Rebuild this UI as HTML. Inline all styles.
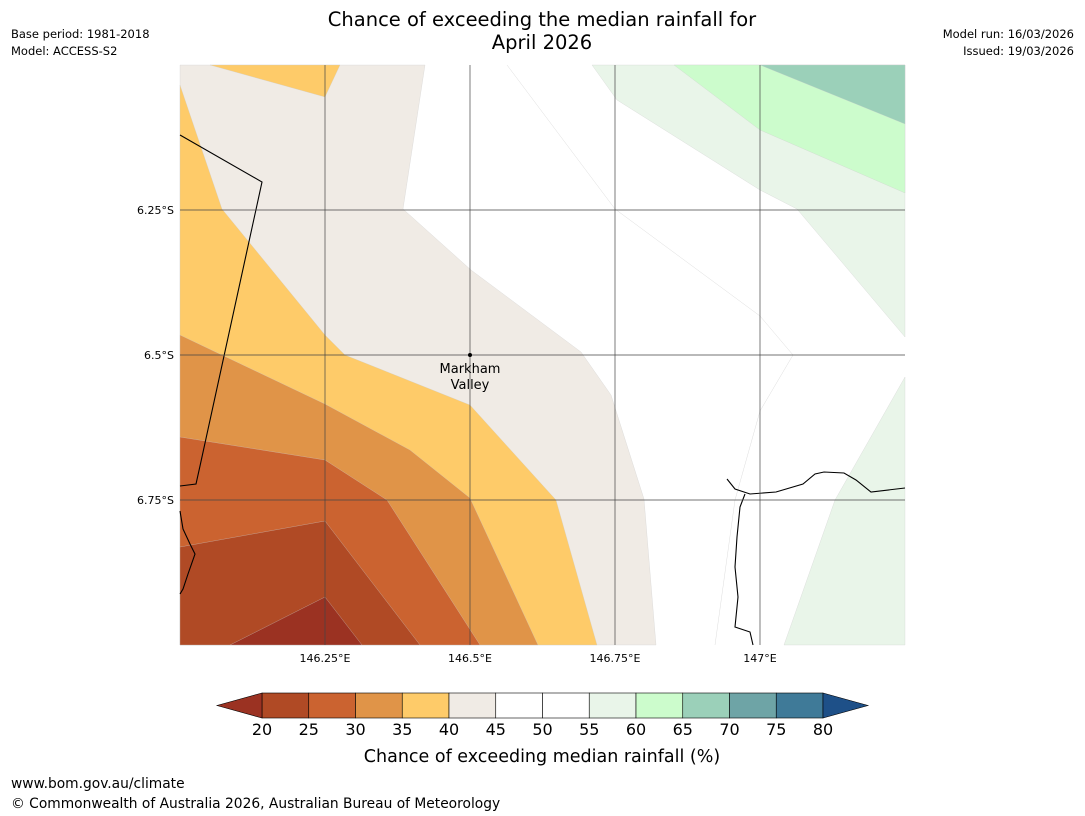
<!DOCTYPE html>
<html><head><meta charset="utf-8">
<style>
body{margin:0;background:#fff;font-family:"Liberation Sans","DejaVu Sans",sans-serif;}
svg{display:block}
</style></head>
<body>
<svg id="chart" width="1085" height="816" xmlns="http://www.w3.org/2000/svg" font-family="DejaVu Sans, Liberation Sans, sans-serif">
<rect width="1085" height="816" fill="#fff"/>
<text x="542" y="26" font-size="19.5" text-anchor="middle">Chance of exceeding the median rainfall for</text>
<text x="542" y="49" font-size="19.5" text-anchor="middle">April 2026</text>
<text x="11" y="38" font-size="11.5">Base period: 1981-2018</text>
<text x="11" y="55" font-size="11.5">Model: ACCESS-S2</text>
<text x="1074" y="38" font-size="11.5" text-anchor="end">Model run: 16/03/2026</text>
<text x="1074" y="55" font-size="11.5" text-anchor="end">Issued: 19/03/2026</text>
<g id="map"></g>
<g id="cbar"></g>
<text x="542" y="762" font-size="17.5" text-anchor="middle">Chance of exceeding median rainfall (%)</text>
<text x="11" y="788" font-size="13.8">www.bom.gov.au/climate</text>
<text x="11" y="808" font-size="13.8">© Commonwealth of Australia 2026, Australian Bureau of Meteorology</text>
</svg>
<script>
// axes
const lonTicks=[146.25,146.5,146.75,147.0];
const lonLabels=["146.25°E","146.5°E","146.75°E","147°E"];
const latTicks=[6.25,6.5,6.75];
const latLabels=["6.25°S","6.5°S","6.75°S"];
const levels=[20,25,30,35,40,45,50,55,60,65,70,75,80];
const barColors=["#b04a25","#cb6330","#e09448","#fecb69","#f0ebe5","#ffffff","#ffffff","#e9f5e9","#ccfccc","#9bd0b9","#6ea4a6","#3f7a98"];
const lowColor="#9b3222", highColor="#1e5088";
// contour regions in [lon, latS]
const regionColors=["#f0ebe5","#fecb69","#fecb69","#e09448","#cb6330","#b04a25","#9b3222","#e9f5e9","#e9f5e9","#ccfccc","#9bd0b9"];
const regions=[
 [[146,6],[146.4224,6],[146.3845,6.2483],[146.5017,6.3534],[146.6914,6.4948],[146.7431,6.569],[146.8,6.7483],[146.8207,7],[146,7]],
 [[146,6.0345],[146.0724,6.2483],[146.25,6.4655],[146.2845,6.5],[146.5,6.5862],[146.6483,6.75],[146.7190,7],[146,7]],
 [[146.0517,6],[146.2759,6],[146.25,6.0552],[146.0517,6]],
 [[146,6.4655],[146.25,6.5845],[146.3966,6.6638],[146.5,6.7466],[146.6172,7],[146,7]],
 [[146,6.6414],[146.25,6.681],[146.3569,6.75],[146.5172,7],[146,7]],
 [[146,6.8310],[146.25,6.7862],[146.4138,7],[146,7]],
 [[146.0862,7],[146.25,6.9172],[146.3138,7]],
 [[146.7103,6],[147.25,6],[147.25,6.4690],[147.0638,6.2483],[147,6.2155],[146.7534,6.0603]],
 [[147.25,6.5379],[147.1293,6.75],[147.0414,7],[147.25,7]],
 [[146.8517,6],[147.25,6],[147.25,6.2207],[147,6.1121]],
 [[147,6],[147.25,6],[147.25,6.1017]]
];
const contourLines=[
 [[146.5638,6],[146.75,6.2483],[147,6.4328],[147.0569,6.5],[147,6.5966],[146.9569,6.75],[146.9224,7]]
];
const border=[[146,6.1207],[146.1414,6.2017],[146.0345,6.6914],[146.0276,6.7224],[146,6.7259]];
const coastW=[[146,6.7690],[146.0052,6.8],[146.0172,6.8259],[146.0259,6.8431],[146.0138,6.8776],[146.0052,6.9034],[146,6.9121]];
const coastE=[[146.9431,6.7138],[146.9569,6.7310],[146.9828,6.7397],[147.0276,6.7362],[147.0741,6.7224],[147.0948,6.7052],[147.1103,6.7017],[147.1448,6.7034],[147.1655,6.7155],[147.1914,6.7362],[147.25,6.7293]];
const coastE2=[[146.9741,6.7397],[146.9655,6.7621],[146.9603,6.8138],[146.9569,6.8655],[146.9621,6.9172],[146.9569,6.9690],[146.9828,6.9776],[146.9879,7]];
const place={lon:146.5,lat:6.5,name:["Markham","Valley"]};

const X0=180,X1=905,Y0=65,Y1=645,LON0=146,LON1=147.25,LAT0=6,LAT1=7;
const xs=lon=>X0+(lon-LON0)/(LON1-LON0)*(X1-X0);
const ys=lat=>Y0+(lat-LAT0)/(LAT1-LAT0)*(Y1-Y0);
const NS="http://www.w3.org/2000/svg";
const map=document.getElementById('map');
function mk(tag,attrs,parent){const e=document.createElementNS(NS,tag);for(const k in attrs)e.setAttribute(k,attrs[k]);parent.appendChild(e);return e;}
const pts=a=>a.map(p=>xs(p[0]).toFixed(1)+","+ys(p[1]).toFixed(1)).join(" ");
regions.forEach((r,i)=>{
 const p=mk('polygon',{points:pts(r),fill:regionColors[i],stroke:"#ccc","stroke-width":0.3},map);
 
 
});
contourLines.forEach(l=>{
 const p=mk('polyline',{points:pts(l),fill:"none",stroke:"#ddd","stroke-width":0.5},map);
 
 
});
[border,coastW,coastE,coastE2].forEach(l=>{
 const p=mk('polyline',{points:pts(l),fill:"none",stroke:"#000","stroke-width":1.1},map);
 
 
});
lonTicks.forEach((t,i)=>{
 const g=mk('line',{x1:xs(t),x2:xs(t),y1:Y0,y2:Y1,stroke:"#444","stroke-width":0.7},map);
 
 
 const tx=mk('text',{x:xs(t),y:Y1+17,"font-size":11,"text-anchor":"middle"},map);tx.textContent=lonLabels[i];
 
 
});
latTicks.forEach((t,i)=>{
 const g=mk('line',{x1:X0,x2:X1,y1:ys(t),y2:ys(t),stroke:"#444","stroke-width":0.7},map);
 
 
 const tx=mk('text',{x:X0-6,y:ys(t)+4,"font-size":11,"text-anchor":"end"},map);tx.textContent=latLabels[i];
 
 
});
const dot=mk('circle',{cx:xs(place.lon),cy:ys(place.lat),r:2,fill:"#000"},map);


place.name.forEach((n,i)=>{
 const t=mk('text',{x:xs(place.lon),y:ys(place.lat)+18+i*16,"font-size":13,"text-anchor":"middle"},map);t.textContent=n;
 
 
});
// colorbar
const cb=document.getElementById('cbar');
const CX0=262,CX1=823,CY0=693,CY1=718;
const cx=v=>CX0+(v-levels[0])/(levels[levels.length-1]-levels[0])*(CX1-CX0);
barColors.forEach((c,i)=>{
 const r=mk('rect',{x:cx(levels[i]),y:CY0,width:cx(levels[i+1])-cx(levels[i]),height:CY1-CY0,fill:c,stroke:"#000","stroke-width":0.6},cb);
 
 
});
const lo=mk('polygon',{points:`${CX0},${CY0} ${CX0-45},${(CY0+CY1)/2} ${CX0},${CY1}`,fill:lowColor,stroke:"#000","stroke-width":0.6},cb);


const hi=mk('polygon',{points:`${CX1},${CY0} ${CX1+45},${(CY0+CY1)/2} ${CX1},${CY1}`,fill:highColor,stroke:"#000","stroke-width":0.6},cb);


levels.forEach(v=>{
 const t=mk('text',{x:cx(v),y:735,"font-size":16,"text-anchor":"middle"},cb);t.textContent=v;
 
 
});
</script>
</body></html>
